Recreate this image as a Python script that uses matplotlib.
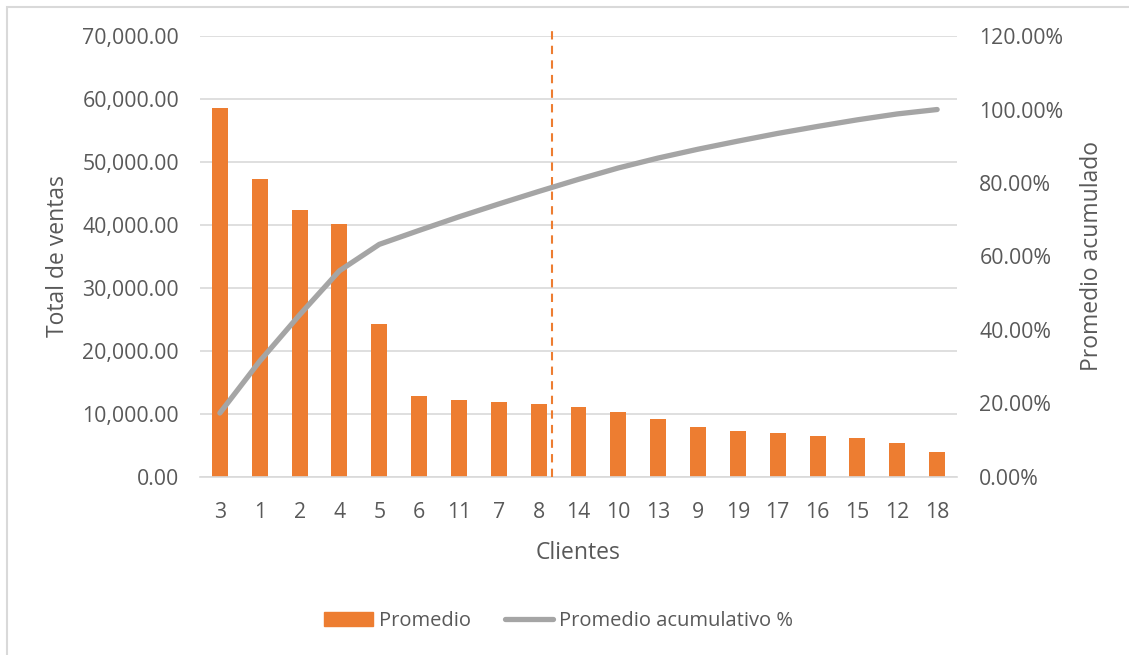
import matplotlib.pyplot as plt
from matplotlib.patches import Patch, Rectangle
from matplotlib.lines import Line2D
from matplotlib.ticker import FuncFormatter

plt.rcParams['font.family'] = ['Open Sans', 'DejaVu Sans']

# Datos
clientes = ['3', '1', '2', '4', '5', '6', '11', '7', '8', '14',
            '10', '13', '9', '19', '17', '16', '15', '12', '18']
promedio = [58570, 47300, 42330, 40210, 24340, 12860, 12280, 11850, 11530, 11110,
            10320, 9210, 7990, 7300, 6980, 6460, 6140, 5340, 4020]
acumulado = [0.174, 0.315, 0.441, 0.561, 0.633, 0.671, 0.708, 0.743, 0.777, 0.810,
             0.841, 0.868, 0.892, 0.914, 0.935, 0.954, 0.972, 0.988, 1.000]
corte_80 = 8.34  # posición de la línea vertical discontinua

naranja = '#ED7D31'
gris = '#A5A5A5'
texto = '#595959'
rejilla = '#D9D9D9'

fig = plt.figure(figsize=(11.29, 6.55), dpi=100)
ax = fig.add_axes([0.1771, 0.2718, 0.6706, 0.6732])
ax2 = ax.twinx()

x = list(range(len(clientes)))
ax.bar(x, promedio, width=0.4, color=naranja, zorder=2)
ax.plot([corte_80, corte_80], [0, 71750], color=naranja, lw=1.5,
        dashes=(4, 3), clip_on=False, zorder=3)
ax2.plot(x, acumulado, color=gris, lw=3.8, solid_capstyle='round', zorder=4)

ax.set_xlim(-0.5, len(clientes) - 0.5)
ax.set_ylim(0, 70000)
ax.set_yticks(range(0, 70001, 10000))
ax.yaxis.set_major_formatter(FuncFormatter(lambda v, p: f'{v:,.2f}'))
ax2.set_ylim(0, 1.2)
ax2.set_yticks([i * 0.2 for i in range(7)])
ax2.yaxis.set_major_formatter(FuncFormatter(lambda v, p: f'{v * 100:.2f}%'))

ax.set_xticks(x)
ax.set_xticklabels(clientes)

ax.grid(axis='y', color=rejilla, lw=1.2)
ax.set_axisbelow(True)
for a in (ax, ax2):
    for s in a.spines.values():
        s.set_visible(False)
ax.spines['bottom'].set_visible(True)
ax.spines['bottom'].set_color(rejilla)
ax.spines['bottom'].set_linewidth(1.2)

ax.tick_params(axis='y', length=0, pad=15, labelsize=15.3, labelcolor=texto)
ax.tick_params(axis='x', length=0, pad=18, labelsize=15.3, labelcolor=texto)
ax2.tick_params(axis='y', length=0, pad=16, labelsize=15.3, labelcolor=texto)

ax.set_xlabel('Clientes', fontsize=16.5, color=texto, labelpad=13)
ax.set_ylabel('Total de ventas', fontsize=16.5, color=texto, labelpad=9)
ax2.set_ylabel('Promedio acumulado', fontsize=16.5, color=texto, labelpad=12)

handles = [Patch(color=naranja, label='Promedio'),
           Line2D([0], [0], color=gris, lw=3.8, solid_capstyle='round',
                  label='Promedio acumulativo %')]
fig.legend(handles=handles, loc='center', bbox_to_anchor=(0.495, 0.052), ncol=2,
           frameon=False, fontsize=14.5, labelcolor=texto, handlelength=2.4,
           handletextpad=0.3, columnspacing=1.7)

fig.patches.append(Rectangle((7 / 1129, -0.1), 1.2, 1 - 7 / 655 + 0.1,
                             transform=fig.transFigure, fill=False,
                             edgecolor=rejilla, lw=1.5))

fig.savefig('out.png', dpi=100)
